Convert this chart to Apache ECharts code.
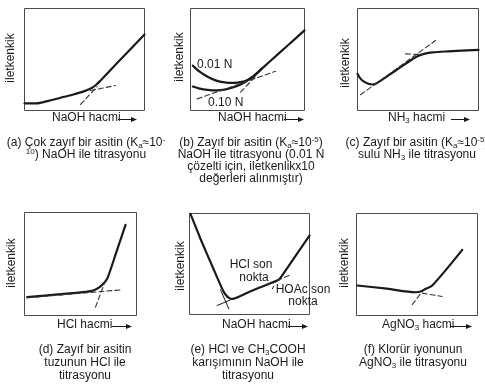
<!DOCTYPE html>
<html><head><meta charset="utf-8">
<script src="https://cdn.jsdelivr.net/npm/echarts@6/dist/echarts.min.js"></script>
<style>html,body{margin:0;padding:0;background:#fff}#c{width:485px;height:385px}</style>
</head><body><div id="c"></div>
<script>
// ---- data (x: titrant volume 0-100, y: conductance 0-100, relative units) ----
const aCurve      = [[0,7],[10,7],[20,9.5],[30,12.5],[40,15.5],[50,19],[56,22],[60,25.5],[63,29],[80,50],[100,74.5]];
const aDashSteep  = [[46.7,5.9],[60.6,23.5]];
const aDashFlat   = [[55,19.6],[75.8,24.5]];

const b001Curve   = [[2,44],[8,38],[15,33],[22,29.5],[30,27.5],[38,27],[45,28],[50,30],[55,33.5],[70,48.5],[85,63.5],[100,78.5]];
const b010Curve   = [[2,23.5],[8,21.5],[15,20.3],[23,19.8],[30,20.5],[37,22.5],[44,25.5],[50,29.5],[56,34],[62,40.5]];
const bDashFlat   = [[5.9,11.4],[74.6,38.5]];
const bDashSteep  = [[43.9,18],[57,33.3]];

const cCurve      = [[0,36],[2,32],[5,28.5],[9,26.2],[12.5,25.5],[15,26.2],[25,34],[35,42],[45,50],[50,53.5],[55,55.5],[62,57],[75,58],[100,59.5]];
const cDashSteep  = [[2.5,15.4],[64.5,68.6]];
const cDashFlat   = [[39.7,55.5],[53.4,54.9]];

const dCurve      = [[2.4,17.8],[30,20.5],[55,23],[62,24.5],[67,27.5],[71,31.5],[74,36],[82,61.5],[90.2,88]];
const dDashFlat   = [[2.4,17.2],[87.2,25]];
const dDashSteep  = [[63.4,8.1],[73.2,36.6]];

const eCurve      = [[0.8,99.7],[10,72.5],[20,45],[28,23.5],[30.5,19],[32.8,16.5],[35.6,15.5],[50,22.5],[65,29.8],[74.4,34.4],[78,40],[100,78.2]];
const eTanHclA    = [[23,8.9],[36,15.5]];
const eTanHclB    = [[25.8,24.5],[32.8,5.6]];
const eTanHoac    = [[73,33.7],[84.2,39.3]];
const eTickHoac   = [[69,25.4],[70.3,28]];

const fCurve      = [[0.6,29.4],[25,26.3],[48.8,22.8],[53,23.5],[57,26],[62.6,29.4],[87.4,64.4]];
const fDashFlat   = [[54.3,21.9],[70.8,18.6]];
const fDashSteep  = [[46,10.5],[52.9,21.3]];

const yLabel = 'iletkenkik';
const xLabels = [
  ['{n|NaOH hacmi}'],
  ['{n|NaOH hacmi}'],
  ['{n|NH}{sub|3}{n| hacmi}'],
  ['{n|HCl hacmi}'],
  ['{n|NaOH hacmi}'],
  ['{n|AgNO}{sub|3}{n| hacmi}']
];
const captions = [
  ['{n|(a) Çok zayıf bir asitin (K}{sub|a}{n|≈10}{sup|-}', '{sup|10}{n|) NaOH ile titrasyonu}'],
  ['{n|(b) Zayıf bir asitin (K}{sub|a}{n|≈10}{sup|-5}{n|)}', '{n|NaOH ile titrasyonu (0.01 N}', '{n|çözelti için, iletkenlikx10}', '{n|değerleri alınmıştır)}'],
  ['{n|(c) Zayıf bir asitin (K}{sub|a}{n|≈10}{sup|-5}{n|)}', '{n|sulu NH}{sub|3}{n| ile titrasyonu}'],
  ['{n|(d) Zayıf bir asitin}', '{n|tuzunun HCl ile}', '{n|titrasyonu}'],
  ['{n|(e) HCl ve CH}{sub|3}{n|COOH}', '{n|karışımının NaOH ile}', '{n|titrasyonu}'],
  ['{n|(f) Klorür iyonunun}', '{n|AgNO}{sub|3}{n| ile titrasyonu}']
];
const notes = [
  {p:1, t:'0.01 N'}, {p:1, t:'0.10 N'},
  {p:4, t:'HCl son'}, {p:4, t:'nokta'}, {p:4, t:'HOAc son'}, {p:4, t:'nokta'}
];

// ---- layout ----
const FONT = "'Liberation Sans', Arial, Helvetica, sans-serif";
const INK = '#1a1a1a';
const panels = [
  {box:[24,8,120,102],  lines:[{d:aCurve,w:2.2,s:0.3},{d:aDashSteep,dash:1},{d:aDashFlat,dash:1}],
   yl:[11,58], xl:[52,118,118,137], cap:[86,143,12]},
  {box:[190,8,114,102], lines:[{d:b001Curve,w:2.2,s:0.3},{d:b010Curve,w:2.2,s:0.3},{d:bDashFlat,dash:1},{d:bDashSteep,dash:1}],
   yl:[180,57], xl:[218,118,284,304], cap:[251,143,12]},
  {box:[357,8,121,102], lines:[{d:cCurve,w:2.2,s:0.3},{d:cDashSteep,dash:1},{d:cDashFlat,dash:1}],
   yl:[346,63], xl:[388,118,451,470], cap:[417,143,12]},
  {box:[24,212,112,103], lines:[{d:dCurve,w:2.2,s:0.3},{d:dDashFlat,dash:1},{d:dDashSteep,dash:1}],
   yl:[12,263], xl:[57,325,112,132], cap:[85,350,13]},
  {box:[189,213,120,101], lines:[{d:eCurve,w:2.2,s:0.2},{d:eTanHclA,w:1},{d:eTanHclB,w:1},{d:eTanHoac,dash:1},{d:eTickHoac,w:1}],
   yl:[181,266], xl:[222,325,288,308], cap:[248,350,13]},
  {box:[356,213,121,102], lines:[{d:fCurve,w:2.2,s:0.3},{d:fDashFlat,dash:1},{d:fDashSteep,dash:1}],
   yl:[345,263], xl:[382,325,450,472], cap:[413,350,13]}
];
const notePos = [[197,65,'left'],[208,103,'left'],[251,265,'center'],[254,278,'center'],[303,290,'center'],[303,302,'center']];

const rich = {
  n:   {fontSize:12, lineHeight:14, fontFamily:FONT, fill:INK, color:INK},
  sub: {fontSize:8,  lineHeight:7, verticalAlign:'bottom', fontFamily:FONT, fill:INK, color:INK},
  sup: {fontSize:8,  lineHeight:7, verticalAlign:'top', fontFamily:FONT, fill:INK, color:INK}
};

const grid=[], xAxis=[], yAxis=[], series=[], graphic=[];
panels.forEach((p,i)=>{
  grid.push({left:p.box[0]+0.5, top:p.box[1]+0.5, width:p.box[2], height:p.box[3], show:true,
             borderColor:'#4a4a4a', borderWidth:1, backgroundColor:'transparent', containLabel:false});
  xAxis.push({type:'value', gridIndex:i, min:0, max:100, show:false});
  yAxis.push({type:'value', gridIndex:i, min:0, max:100, show:false});
  p.lines.forEach(l=>series.push({type:'line', xAxisIndex:i, yAxisIndex:i, data:l.d, symbol:'none', showSymbol:false,
    smooth:l.s||false, silent:true, clip:false,
    lineStyle:{color: l.dash ? '#333' : INK, width: l.w || 1.1, type: l.dash ? [5,3] : 'solid', cap:'round', join:'round'}}));
  // y label
  graphic.push({type:'text', x:p.yl[0], y:p.yl[1], rotation:Math.PI/2, silent:true,
    style:{text:yLabel, font:'12px '+FONT, fill:INK, textAlign:'center', textVerticalAlign:'middle', align:'center', verticalAlign:'middle'}});
  // x label
  graphic.push({type:'text', x:p.xl[0], y:p.xl[1], silent:true,
    style:{text:xLabels[i][0], rich:rich, fill:INK, align:'left', verticalAlign:'middle', textAlign:'left', textVerticalAlign:'middle'}});
  // arrow
  const y=p.xl[1]+1, x1=p.xl[2], x2=p.xl[3];
  graphic.push({type:'line', silent:true, shape:{x1:x1, y1:y+0.5, x2:x2-4, y2:y+0.5}, style:{stroke:INK, lineWidth:1}});
  graphic.push({type:'polygon', silent:true, shape:{points:[[x2-6,y-2],[x2,y+0.5],[x2-6,y+3]]}, style:{fill:INK}});
  // caption
  captions[i].forEach((line,k)=>{
    graphic.push({type:'text', x:p.cap[0], y:p.cap[1]+k*p.cap[2], silent:true,
      style:{text:line, rich:rich, fill:INK, align:'center', verticalAlign:'middle', textAlign:'center', textVerticalAlign:'middle'}});
  });
});
notes.forEach((n,k)=>{
  const q=notePos[k];
  graphic.push({type:'text', x:q[0], y:q[1], silent:true,
    style:{text:n.t, font:'12px '+FONT, fill:INK, align:q[2], verticalAlign:'middle', textAlign:q[2], textVerticalAlign:'middle'}});
});

const chart = echarts.init(document.getElementById('c'), null, {renderer:'canvas'});
chart.setOption({animation:false, backgroundColor:'#fff', grid, xAxis, yAxis, series, graphic});
</script></body></html>
